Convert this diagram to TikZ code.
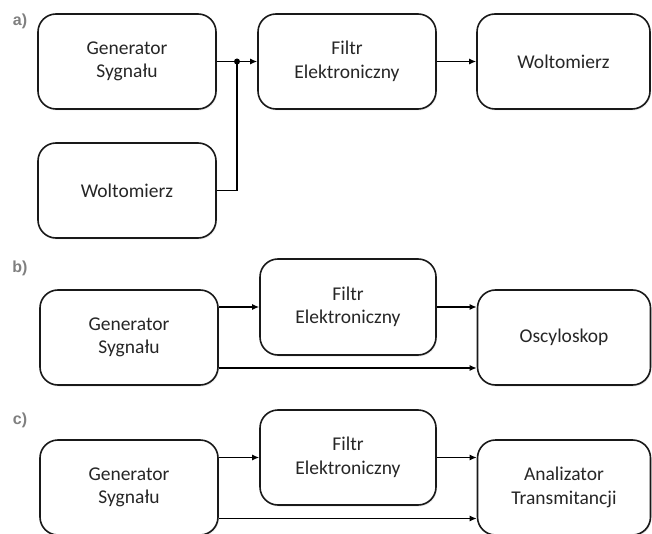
\documentclass[tikz,border=0pt]{standalone}
\usepackage{fontspec}
\setmainfont{Carlito}
\newfontfamily\labfont{Liberation Sans}
\usetikzlibrary{arrows.meta,shadows}
\definecolor{txt}{HTML}{262626}
\definecolor{lab}{HTML}{7F7F7F}
\tikzset{
  blk/.style={draw=black!90, line width=1.6pt, rounded corners=18pt, fill=white,
    minimum width=178pt, minimum height=95pt, align=center, text=txt,
    font=\fontsize{19.5}{23.5}\selectfont, inner sep=0pt,
    drop shadow={shadow xshift=1pt, shadow yshift=-1.5pt, opacity=0.18}},
  conn/.style={line width=1.3pt, -{Latex[length=7pt,width=6pt]}},
  wire/.style={line width=1.3pt},
  lbl/.style={text=lab, font=\labfont\bfseries\fontsize{16}{18}\selectfont, inner sep=0pt}
}
\begin{document}
\begin{tikzpicture}[x=1pt,y=-1pt]
\useasboundingbox (0,0) rectangle (652,534);
% labels
\node[lbl] (la) at (20,21) {a)};
\node[lbl] (lb) at (20,268) {b)};
\node[lbl] (lc) at (20,420) {c)};
% a)
\node[blk] (genA) at (127,61.5) {Generator\\Sygnału};
\node[blk] (filA) at (347,61.5) {Filtr\\Elektroniczny};
\node[blk, minimum width=173pt] (volA) at (563.5,61.5) {Woltomierz};
\node[blk] (volL) at (127,190.5) {Woltomierz};
\coordinate (j) at (237,61.5);
\draw[conn] (genA.east) -- (filA.west);
\draw[conn] (filA.east) -- (volA.west);
\draw[wire] (volL.east) -| (j);
\fill (j) circle (3pt);
% b)
\node[blk, minimum width=176pt, minimum height=96pt] (filB) at (348,307) {Filtr\\Elektroniczny};
\node[blk] (genB) at (129,337.5) {Generator\\Sygnału};
\node[blk, minimum width=173pt] (oscB) at (564,337.5) {Oscyloskop};
\draw[conn] (genB.east |- filB.west) -- (filB.west);
\draw[conn] (filB.east) -- (oscB.west |- filB.east);
\draw[conn] ([yshift=-30.5pt]genB.east) -- ([yshift=-30.5pt]oscB.west);
% c)
\node[blk, minimum width=176pt] (filC) at (348,457.5) {Filtr\\Elektroniczny};
\node[blk] (genC) at (129,487.5) {Generator\\Sygnału};
\node[blk, minimum width=173pt] (anaC) at (564,487.5) {Analizator\\Transmitancji};
\draw[conn] (genC.east |- filC.west) -- (filC.west);
\draw[conn] (filC.east) -- (anaC.west |- filC.east);
\draw[conn] ([yshift=-31pt]genC.east) -- ([yshift=-31pt]anaC.west);
\end{tikzpicture}
\end{document}
